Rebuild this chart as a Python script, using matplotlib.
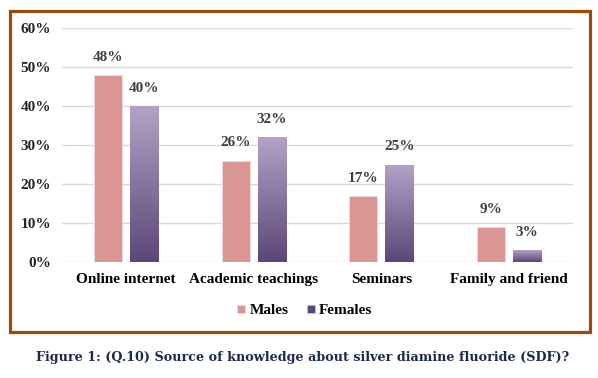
import numpy as np
import matplotlib.pyplot as plt
from matplotlib.patches import Rectangle
from matplotlib.colors import LinearSegmentedColormap

categories = ["Online internet", "Academic teachings", "Seminars", "Family and friend"]
males = [48, 26, 17, 9]
females = [40, 32, 25, 3]
yticks = [0, 10, 20, 30, 40, 50, 60]

male_color = "#D99694"
fem_top = "#B3A2C7"
fem_bottom = "#5C4677"
text_gray = "#404040"

fig = plt.figure(figsize=(5.98, 3.78), dpi=100)
ax = fig.add_axes([62 / 598, 116 / 378, 511 / 598, 234 / 378])

x = np.arange(len(categories))
w = 0.22
gap = 0.0625
off = (w + gap) / 2

ax.bar(x - off, males, width=w, color=male_color, edgecolor="#F2DCDB", linewidth=0.6,
       zorder=3, label="Males")
fbars = ax.bar(x + off, females, width=w, color=fem_bottom, edgecolor="#CCC1DA",
               linewidth=0.6, zorder=3, label="Females")

# vertical gradient on the female bars
cmap = LinearSegmentedColormap.from_list("fem", [fem_bottom, fem_top])
grad = np.linspace(0, 1, 256).reshape(-1, 1)
for b in fbars:
    x0, y0 = b.get_x(), b.get_y()
    im = ax.imshow(grad, cmap=cmap, aspect="auto", origin="lower",
                   extent=[x0, x0 + b.get_width(), y0, y0 + b.get_height()], zorder=3.5)
    im.set_clip_path(b)

ax.set_xlim(-0.5, len(categories) - 0.5)
ax.set_ylim(0, 60)
ax.set_yticks(yticks)
ax.set_yticklabels([f"{t}%" for t in yticks])
ax.set_xticks(x)
ax.set_xticklabels(categories)
ax.yaxis.grid(True, color="#D9D9D9", linewidth=1.0, zorder=0)
for s in ax.spines.values():
    s.set_visible(False)
ax.tick_params(length=0)
ax.tick_params(axis="y", pad=8)
ax.tick_params(axis="x", pad=8)
for lab in ax.get_yticklabels() + ax.get_xticklabels():
    lab.set_fontfamily("Liberation Serif")
    lab.set_fontweight("bold")
    lab.set_fontsize(11)
for lab in ax.get_yticklabels():
    lab.set_color("#262626")
for lab in ax.get_xticklabels():
    lab.set_color("#000000")

for xi, v in zip(x - off, males):
    ax.annotate(f"{v}%", (xi, v), xytext=(0, 8), textcoords="offset points",
                ha="center", va="bottom", fontfamily="Liberation Serif",
                fontweight="bold", fontsize=11, color=text_gray)
for xi, v in zip(x + off, females):
    ax.annotate(f"{v}%", (xi, v), xytext=(0, 8), textcoords="offset points",
                ha="center", va="bottom", fontfamily="Liberation Serif",
                fontweight="bold", fontsize=11, color=text_gray)

leg = fig.legend(loc="center", bbox_to_anchor=(305 / 598, 1 - 311 / 378), ncol=2,
                 frameon=False, handlelength=0.5, handleheight=0.5, handletextpad=0.3,
                 columnspacing=1.2, prop={"family": "Liberation Serif", "weight": "bold",
                                          "size": 11})
for t in leg.get_texts():
    t.set_color("#000000")

# brown frame round the chart
fig.patches.append(Rectangle((10 / 598, 46 / 378), 580 / 598, 321 / 378,
                             transform=fig.transFigure, fill=False,
                             edgecolor="#9E4A0A", linewidth=2.3))

fig.text(303 / 598, 1 - 358 / 378,
         "Figure 1: (Q.10) Source of knowledge about silver diamine fluoride (SDF)?",
         ha="center", va="center", fontfamily="DejaVu Serif", fontweight="bold",
         fontsize=9.2, color="#1C2B4A")

fig.savefig("out.png", dpi=100)
